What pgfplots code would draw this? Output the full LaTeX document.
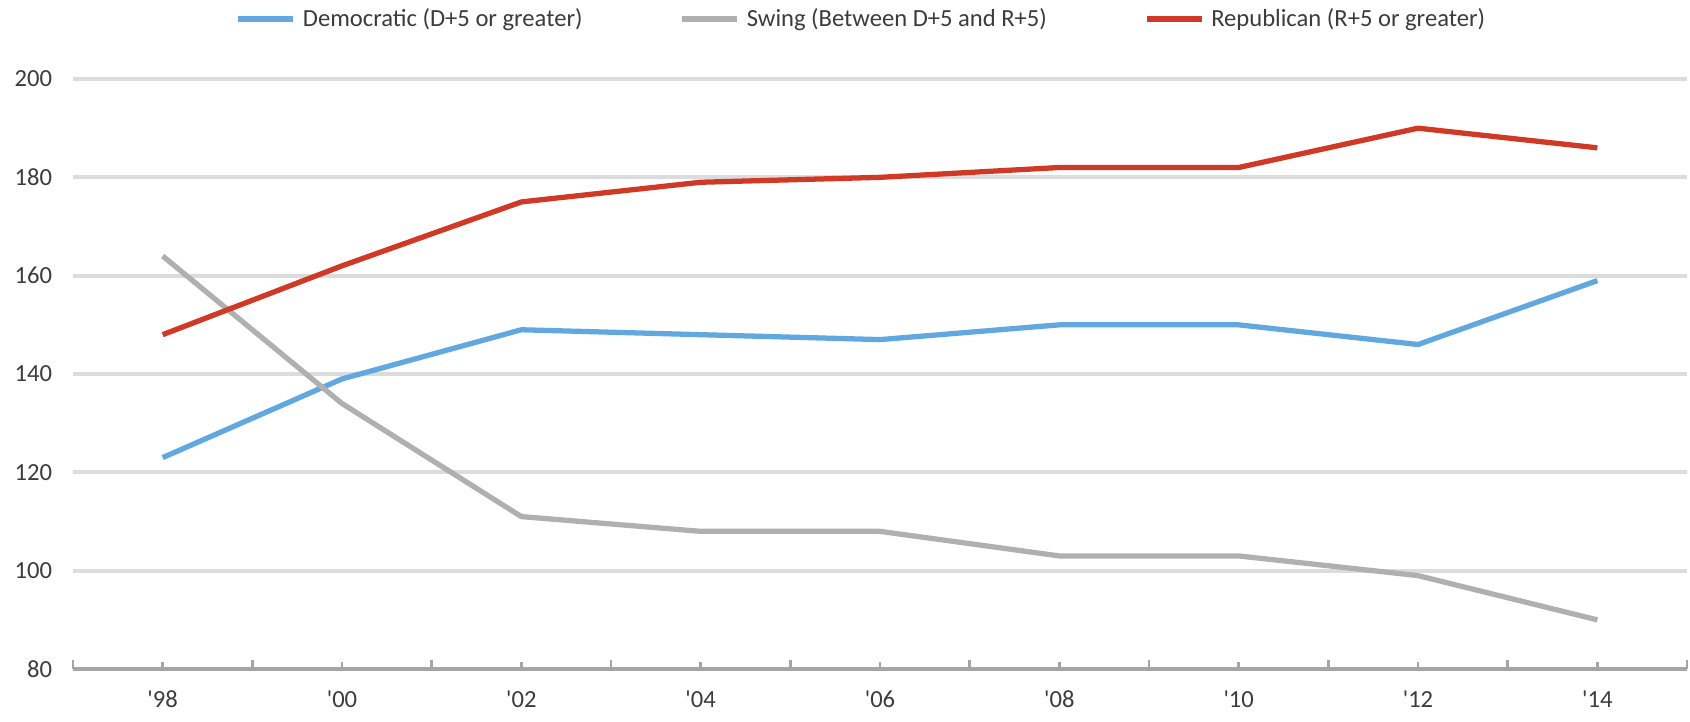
\documentclass[border=0pt]{standalone}
\usepackage{pgfplots}
\pgfplotsset{compat=1.18}
\usepackage{fontspec}
\setmainfont{Carlito}
\definecolor{demblue}{RGB}{98,168,224}
\definecolor{swinggray}{RGB}{176,176,176}
\definecolor{repred}{RGB}{207,57,38}
\definecolor{gridgray}{RGB}{220,220,220}
\definecolor{axgray}{RGB}{165,165,165}
\definecolor{txt}{RGB}{60,60,60}
\begin{document}
\fontsize{7}{8.4}\selectfont
\begin{tikzpicture}
\begin{axis}[
    scale only axis,
    width=161.4mm, height=59mm,
    xmin=-0.5, xmax=8.5,
    ymin=80, ymax=200,
    xtick={0,...,8},
    xticklabels={{\textquotesingle98},{\textquotesingle00},{\textquotesingle02},{\textquotesingle04},{\textquotesingle06},{\textquotesingle08},{\textquotesingle10},{\textquotesingle12},{\textquotesingle14}},
    minor xtick={-0.5,0.5,...,8.5},
    ytick={80,100,...,200},
    ymajorgrids,
    grid style={gridgray, line width=1.1pt},
    axis x line*=bottom,
    axis y line*=left,
    y axis line style={draw=none},
    x axis line style={axgray, line width=0.9pt},
    xtick style={axgray, line width=0.8pt},
    minor tick style={axgray, line width=0.8pt},
    ytick style={draw=none},
    major tick length=0.7mm,
    minor tick length=0.95mm,
    tick label style={font=\fontsize{7}{8.4}\selectfont, text=txt},
    /pgf/number format/assume math mode=true,
    yticklabel style={xshift=-1.2mm},
    xticklabel style={yshift=-1.3mm},
    legend columns=3,
    legend style={draw=none, inner sep=0pt, at={(0.49,1)}, anchor=center, yshift=6mm,
        font=\fontsize{7}{8.4}\selectfont, text=txt,
        /tikz/every even column/.append style={column sep=9mm}},
    legend image code/.code={\draw[#1, line width=1.5pt] (0cm,0cm) -- (0.55cm,0cm);},
]
\addplot[demblue, line width=1.5pt] coordinates {
(0,123) (1,139) (2,149) (3,148) (4,147) (5,150) (6,150) (7,146) (8,159)};
\addlegendentry{Democratic (D+5 or greater)}
\addplot[swinggray, line width=1.5pt] coordinates {
(0,164) (1,134) (2,111) (3,108) (4,108) (5,103) (6,103) (7,99) (8,90)};
\addlegendentry{Swing (Between D+5 and R+5)}
\addplot[repred, line width=1.5pt] coordinates {
(0,148) (1,162) (2,175) (3,179) (4,180) (5,182) (6,182) (7,190) (8,186)};
\addlegendentry{Republican (R+5 or greater)}
\end{axis}
\path (current axis.south west) ++(-7.3mm,-5.2mm) coordinate (bl);
\path (current axis.north east) ++(0.3mm,7.9mm) coordinate (tr);
\path (bl) rectangle (tr);
\end{tikzpicture}
\end{document}
